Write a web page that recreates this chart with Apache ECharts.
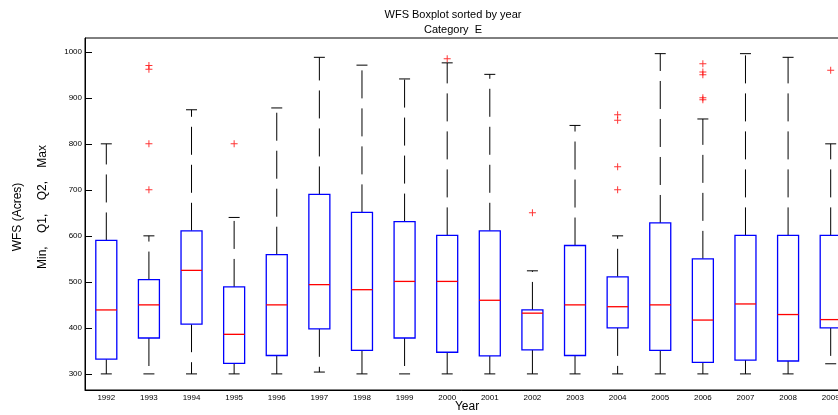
<!DOCTYPE html>
<html><head><meta charset="utf-8">
<script src="https://cdn.jsdelivr.net/npm/echarts@6/dist/echarts.min.js"></script>
<style>html,body{margin:0;padding:0;background:#fff}#c{width:838px;height:415px}</style>
</head><body><div id="c"></div>
<script>
const years = ['1992','1993','1994','1995','1996','1997','1998','1999','2000','2001','2002','2003','2004','2005','2006','2007','2008','2009'];
const mins    = [300, 300, 300, 300, 300, 304, 300, 300, 300, 300, 300, 300, 300, 300, 300, 300, 300, 322];
const q1s     = [332, 378, 408, 323, 340, 398, 351, 378, 347, 339, 352, 340, 400, 351, 325, 330, 328, 400];
const medians = [439, 450, 525, 386, 450, 494, 483, 501, 501, 460, 432, 450, 446, 450, 417, 452, 429, 418];
const q3s     = [590, 505, 611, 489, 559, 690, 651, 631, 601, 611, 439, 579, 511, 628, 550, 601, 601, 601];
const maxs    = [800, 600, 874, 640, 878, 988, 971, 941, 976, 951, 524, 840, 600, 996, 854, 996, 988, 800];
const outlierYears  = ['1993','1993','1993','1993','1995','2000','2002','2004','2004','2004','2004','2006','2006','2006','2006','2006','2009'];
const outlierValues = [970, 962, 800, 700, 800, 985, 650, 863, 851, 750, 700, 974, 956, 950, 900, 896, 960];
const yTicks = [300, 400, 500, 600, 700, 800, 900, 1000];

const FONT = '"Liberation Sans", Arial, sans-serif';
const boxData = years.map((y, i) => [i, mins[i], q1s[i], medians[i], q3s[i], maxs[i]]);
const outData = outlierYears.map((y, i) => [years.indexOf(y), outlierValues[i]]);

function renderBox(params, api) {
  const idx = api.value(0);
  const pMin = api.coord([idx, api.value(1)]);
  const pQ1 = api.coord([idx, api.value(2)]);
  const pMed = api.coord([idx, api.value(3)]);
  const pQ3 = api.coord([idx, api.value(4)]);
  const pMax = api.coord([idx, api.value(5)]);
  const cx = pMed[0];
  const hw = 10.5, cw = 5.5;
  const wStyle = { stroke: '#000', lineWidth: 1, lineDash: [28, 10] };
  return {
    type: 'group',
    children: [
      { type: 'line', shape: { x1: cx, y1: pQ3[1], x2: cx, y2: pMax[1] }, style: wStyle },
      { type: 'line', shape: { x1: cx, y1: pQ1[1], x2: cx, y2: pMin[1] }, style: wStyle },
      { type: 'line', shape: { x1: cx - cw, y1: pMax[1], x2: cx + cw, y2: pMax[1] }, style: { stroke: '#000', lineWidth: 1 } },
      { type: 'line', shape: { x1: cx - cw, y1: pMin[1], x2: cx + cw, y2: pMin[1] }, style: { stroke: '#000', lineWidth: 1 } },
      { type: 'rect', shape: { x: cx - hw, y: pQ3[1], width: 2 * hw, height: pQ1[1] - pQ3[1] }, style: { fill: '#fff', stroke: '#0000ff', lineWidth: 1.3 } },
      { type: 'line', shape: { x1: cx - hw, y1: pMed[1], x2: cx + hw, y2: pMed[1] }, style: { stroke: '#ff0000', lineWidth: 1.3 } }
    ]
  };
}

const chart = echarts.init(document.getElementById('c'), null, { renderer: 'canvas' });
chart.setOption({
  animation: false,
  backgroundColor: '#fff',
  title: {
    text: 'WFS Boxplot sorted by year\nCategory  E',
    left: 448, top: 2, textAlign: 'center',
    textStyle: { fontFamily: FONT, fontSize: 11, fontWeight: 'normal', color: '#000', lineHeight: 15 }
  },
  grid: { left: 85, top: 38, width: 767, height: 352, outerBoundsMode: 'none', containLabel: false,
          show: true, borderColor: '#000', borderWidth: 1, backgroundColor: 'transparent' },
  xAxis: {
    type: 'category', data: years, boundaryGap: true,
    axisLine: { lineStyle: { color: '#000', width: 1 } },
    axisTick: { show: false },
    axisLabel: { fontFamily: FONT, fontSize: 8, color: '#000', margin: 4, interval: 0 },
    splitLine: { show: false }
  },
  yAxis: {
    type: 'value', min: 265, max: 1030,
    axisLine: { show: true, lineStyle: { color: '#000', width: 1 } },
    axisTick: { show: true, inside: true, length: 7, customValues: yTicks, lineStyle: { color: '#000' } },
    axisLabel: { fontFamily: FONT, fontSize: 8, color: '#000', margin: 3, customValues: yTicks, formatter: v => String(v) },
    splitLine: { show: false }
  },
  graphic: [
    { type: 'text', x: 18, y: 217, rotation: Math.PI / 2,
      style: { text: 'WFS (Acres)', fontFamily: FONT, fontSize: 12, fill: '#000', align: 'center', verticalAlign: 'middle' } },
    { type: 'text', x: 43, y: 207, rotation: Math.PI / 2,
      style: { text: 'Min,    Q1,    Q2,    Max', fontFamily: FONT, fontSize: 12, fill: '#000', align: 'center', verticalAlign: 'middle' } },
    { type: 'text', x: 467, y: 407,
      style: { text: 'Year', fontFamily: FONT, fontSize: 12, fill: '#000', align: 'center', verticalAlign: 'middle' } }
  ],
  series: [
    { type: 'custom', renderItem: renderBox, data: boxData, clip: false, encode: { x: 0, y: [1, 2, 3, 4, 5] } },
    { type: 'scatter', data: outData, symbol: 'path://M4.3,0h1.4v4.3h4.3v1.4h-4.3v4.3h-1.4v-4.3h-4.3v-1.4h4.3z',
      symbolSize: 7, itemStyle: { color: '#ff0000' }, z: 5 }
  ]
});
</script>
</body></html>
